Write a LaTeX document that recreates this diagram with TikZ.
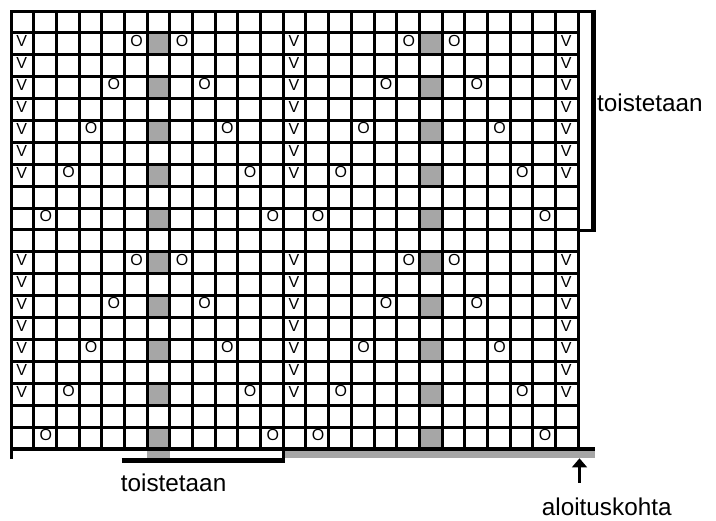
\documentclass[tikz,border=0pt]{standalone}
\usepackage{fontspec}
\setmainfont{Liberation Sans}
\usetikzlibrary{arrows.meta}
\definecolor{cellgray}{HTML}{A6A6A6}
\begin{document}
\begin{tikzpicture}[x=1bp,y=-1bp,
  gridline/.style={line width=3bp,line cap=rect},
  heavy/.style={line width=4bp},
  graycell/.style={fill=cellgray},
  sym/.style={inner sep=0pt,font=\fontsize{16bp}{16bp}\selectfont},
  lbl/.style={inner sep=0pt,anchor=base west,font=\fontsize{24.3bp}{24.3bp}\selectfont}]
\useasboundingbox (0,0) rectangle (716,521);
\def\cw{22.69}
\def\rh{21.9}
% gray cells
\foreach \r in {2,4,6,8,10,12,14,16,18,20}
  \foreach \c in {7,19}
    \fill[graycell] ({11+(\c-1)*\cw},{11+(\r-1)*\rh}) rectangle ++(\cw,\rh);
% gray below grid
\fill[graycell] ({11+6*\cw},449) rectangle ({11+7*\cw},458);
\fill[graycell] ({11+12*\cw},449) rectangle (595,458);
% grid
\foreach \i in {0,...,25}
  \draw[gridline] ({floor(11+\i*\cw)+0.5},11.5) -- ({floor(11+\i*\cw)+0.5},449);
\foreach \j in {0,...,20}
  \draw[gridline] (11.5,{floor(11+\j*\rh)+0.5}) -- (578.5,{floor(11+\j*\rh)+0.5});
\draw[gridline] (11.5,449) -- (11.5,457);
\draw[heavy] (10,449) -- (595,449);
% right bracket
\draw[line width=3bp] (578,11.5) -- (596,11.5);
\draw[line width=3bp] (578,230.5) -- (596,230.5);
\draw[line width=5bp] (593.5,10) -- (593.5,232);
% bottom bracket
\draw[line width=5bp] (121.7,460.8) -- (284.5,460.8);
\draw[line width=3bp] (283.5,449) -- (283.5,463.3);
% V symbols
\foreach \h in {0,10}
  \foreach \r in {2,...,8}
    \foreach \c in {1,13,25}
      \node[sym] (v\the\numexpr\r+\h\relax-\c) at ({11+(\c-0.5)*\cw-0.7},{11+(\r+\h-0.5)*\rh-2.5}) {V};
% O symbols
\foreach \h in {0,10}
  \foreach \j in {0,...,4}
    \foreach \c in {6-\j,8+\j,18-\j,20+\j}
      \node[sym] (o\h-\j-\c) at ({11+(\c-0.5)*\cw+0.8},{11+(2+2*\j+\h-0.5)*\rh-3.2}) {O};
% labels
\node[lbl] (rep1) at (597,111.7) {toistetaan};
\node[lbl] (rep2) at (120.7,491.7) {toistetaan};
\node[lbl] (start) at (541.7,515) {aloituskohta};
\coordinate (arrowfrom) at (579.5,482.7);
\coordinate (arrowto) at (579.5,458.3);
\draw[line width=2.3bp,-{Triangle[width=14.7bp,length=9bp]}] (arrowfrom) -- (arrowto);
\end{tikzpicture}
\end{document}
